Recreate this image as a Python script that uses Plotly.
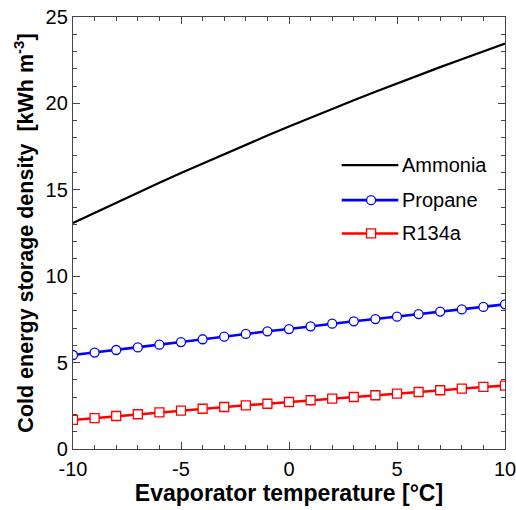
import plotly.graph_objects as go

temps = list(range(-10, 11))
ammonia = [13.08, 13.67, 14.26, 14.84, 15.41, 15.97, 16.52, 17.07, 17.61, 18.14, 18.66,
           19.18, 19.68, 20.18, 20.67, 21.16, 21.63, 22.10, 22.56, 23.02, 23.46]
propane = [5.44, 5.58, 5.73, 5.88, 6.04, 6.19, 6.35, 6.50, 6.66, 6.81, 6.94,
           7.10, 7.25, 7.39, 7.52, 7.66, 7.81, 7.95, 8.08, 8.22, 8.37]
r134a = [1.68, 1.79, 1.91, 2.01, 2.12, 2.22, 2.33, 2.43, 2.53, 2.62, 2.72,
         2.82, 2.91, 3.01, 3.11, 3.20, 3.30, 3.40, 3.49, 3.59, 3.67]

x_ticks = [-10, -5, 0, 5, 10]
x_ticktext = ["-10", "-5", "0", "5", "10"]
y_ticks = [0, 5, 10, 15, 20, 25]
y_ticktext = ["0", "5", "10", "15", "20", "25"]

series_names = ["Ammonia", "Propane", "R134a"]
series_colors = ["black", "#0000ff", "#ff0000"]
series_symbols = [None, "circle", "square"]

FONT = "Liberation Sans, Arial, sans-serif"

fig = go.Figure()
for name, vals, col, sym in zip(series_names, [ammonia, propane, r134a], series_colors, series_symbols):
    if sym is None:
        fig.add_trace(go.Scatter(x=temps, y=vals, mode="lines", name=name,
                                 line=dict(color=col, width=2.2), showlegend=False))
    else:
        fig.add_trace(go.Scatter(x=temps, y=vals, mode="lines+markers", name=name,
                                 line=dict(color=col, width=2.6),
                                 marker=dict(symbol=sym, size=9, color="white",
                                             line=dict(color=col, width=1.3)),
                                 showlegend=False))

# manual legend (paper coordinates)
leg_y = [0.657, 0.576, 0.499]
lx0, lx1, lmx, ltx = 0.622, 0.753, 0.690, 0.757
for name, col, sym, yy in zip(series_names, series_colors, series_symbols, leg_y):
    fig.add_shape(type="line", xref="paper", yref="paper", x0=lx0, x1=lx1, y0=yy, y1=yy,
                  line=dict(color=col, width=2.2 if sym is None else 2.6))
    if sym is not None:
        stype = "circle" if sym == "circle" else "rect"
        fig.add_shape(type=stype, xref="paper", yref="paper", xsizemode="pixel", ysizemode="pixel",
                      xanchor=lmx, yanchor=yy, x0=-4.5, x1=4.5, y0=-4.5, y1=4.5,
                      fillcolor="white", line=dict(color=col, width=1.3))
    fig.add_annotation(x=ltx, y=yy, xref="paper", yref="paper", text=name, showarrow=False,
                       xanchor="left", yanchor="middle",
                       font=dict(family=FONT, size=20, color="black"))

axis_common = dict(showline=True, linecolor="#444", linewidth=1.3, mirror="ticks",
                   ticks="inside", ticklen=7, tickwidth=1.2, tickcolor="#444",
                   showgrid=False, zeroline=False, automargin=False,
                   ticklabeloverflow="allow",
                   tickfont=dict(family=FONT, size=20, color="black"))

fig.update_xaxes(range=[-10, 10], tickmode="array", tickvals=x_ticks, ticktext=x_ticktext,
                 minor=dict(dtick=1, tick0=-10, ticks="inside", ticklen=4, tickcolor="#444", showgrid=False),
                 ticklabelstandoff=2,
                 title=dict(text="<b>Evaporator temperature [°C]</b>",
                            font=dict(family=FONT, size=23, color="black"), standoff=2),
                 **axis_common)
fig.update_yaxes(range=[0, 25], tickmode="array", tickvals=y_ticks, ticktext=y_ticktext,
                 minor=dict(dtick=1, tick0=0, ticks="inside", ticklen=4, tickcolor="#444", showgrid=False),
                 title=dict(text="<b>Cold energy storage density\u00a0\u00a0[kWh m<sup>-3</sup>]</b>",
                            font=dict(family=FONT, size=21.5, color="black"), standoff=6),
                 **axis_common)

fig.update_layout(
    width=516, height=510,
    margin=dict(l=73, r=11, t=17, b=61),
    plot_bgcolor="white", paper_bgcolor="white",
    font=dict(family=FONT, color="black"),
    showlegend=False,
)

fig.write_html("out.html")
